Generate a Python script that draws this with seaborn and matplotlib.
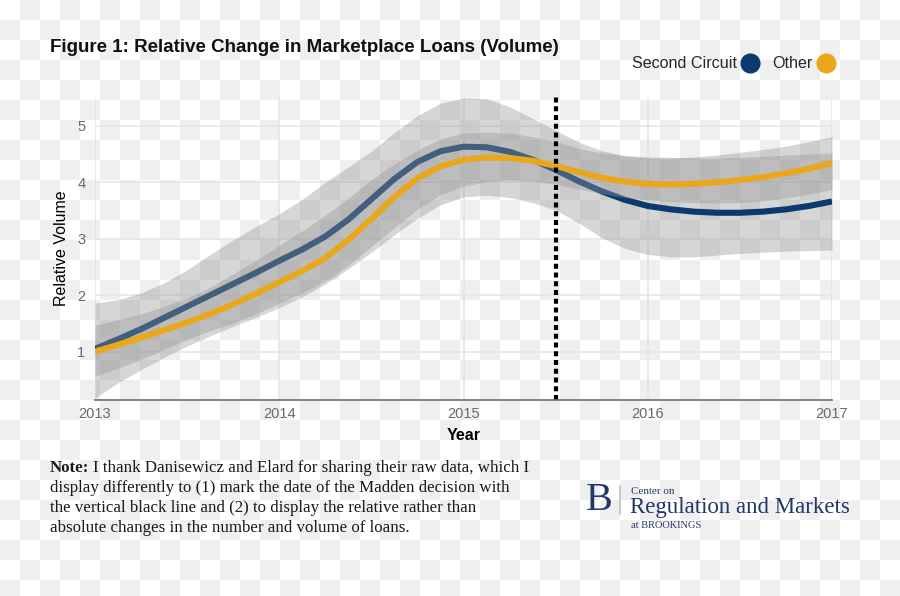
import numpy as np
import pandas as pd
import matplotlib
matplotlib.use("Agg")
import matplotlib.pyplot as plt
from matplotlib.lines import Line2D
import seaborn as sns

# ---------------- data (every 1/8 year) ----------------
years = [2013.000, 2013.125, 2013.250, 2013.375, 2013.500, 2013.625, 2013.750, 2013.875,
         2014.000, 2014.125, 2014.250, 2014.375, 2014.500, 2014.625, 2014.750, 2014.875,
         2015.000, 2015.125, 2015.250, 2015.375, 2015.500, 2015.625, 2015.750, 2015.875,
         2016.000, 2016.125, 2016.250, 2016.375, 2016.500, 2016.625, 2016.750, 2016.875,
         2017.000]
second_circuit = [1.05, 1.22, 1.40, 1.60, 1.80, 2.00, 2.20, 2.40,
                  2.61, 2.81, 3.04, 3.34, 3.70, 4.06, 4.36, 4.55,
                  4.63, 4.62, 4.54, 4.40, 4.22, 4.02, 3.84, 3.69,
                  3.58, 3.52, 3.48, 3.46, 3.46, 3.48, 3.52, 3.58,
                  3.66]
second_lo = [0.18, 0.45, 0.68, 0.90, 1.10, 1.28, 1.45, 1.61,
             1.78, 1.97, 2.20, 2.47, 2.76, 3.07, 3.36, 3.60,
             3.74, 3.77, 3.73, 3.64, 3.51, 3.28, 3.02, 2.83,
             2.72, 2.68, 2.68, 2.71, 2.74, 2.76, 2.78, 2.79,
             2.80]
second_hi = [1.86, 1.92, 2.04, 2.22, 2.45, 2.72, 2.98, 3.22,
             3.44, 3.70, 4.00, 4.27, 4.55, 4.88, 5.18, 5.40,
             5.49, 5.48, 5.34, 5.13, 4.92, 4.71, 4.56, 4.47,
             4.43, 4.43, 4.45, 4.48, 4.53, 4.58, 4.64, 4.72,
             4.81]
other = [1.00, 1.12, 1.25, 1.38, 1.52, 1.67, 1.84, 2.03,
         2.23, 2.43, 2.66, 2.98, 3.35, 3.74, 4.07, 4.28,
         4.40, 4.44, 4.43, 4.38, 4.29, 4.18, 4.08, 4.01,
         3.97, 3.96, 3.97, 4.00, 4.04, 4.09, 4.16, 4.24,
         4.34]
other_lo = [0.56, 0.71, 0.86, 1.04, 1.22, 1.37, 1.51, 1.67,
            1.86, 2.04, 2.25, 2.53, 2.86, 3.20, 3.52, 3.78,
            3.93, 4.01, 4.04, 4.02, 3.96, 3.88, 3.80, 3.73,
            3.69, 3.66, 3.64, 3.63, 3.64, 3.67, 3.72, 3.79,
            3.87]
other_hi = [1.47, 1.56, 1.67, 1.80, 1.95, 2.14, 2.38, 2.62,
            2.88, 3.14, 3.42, 3.72, 4.04, 4.33, 4.57, 4.77,
            4.87, 4.89, 4.87, 4.81, 4.72, 4.60, 4.52, 4.47,
            4.45, 4.44, 4.43, 4.43, 4.44, 4.46, 4.48, 4.50,
            4.52]
madden_date = 2015.5
x_ticks = [2013, 2014, 2015, 2016, 2017]
x_tick_labels = ["2013", "2014", "2015", "2016", "2017"]
y_ticks = [1, 2, 3, 4, 5]
y_tick_labels = ["1", "2", "3", "4", "5"]
series_names = ["Second Circuit", "Other"]

BLUE = "#0b3a6f"
GOLD = "#e9a81c"
NAVY = "#22386b"

df = pd.DataFrame({"Year": years, "Second Circuit": second_circuit, "Other": other})

sns.set_theme(style="white")
plt.rcParams["font.family"] = ["Liberation Sans", "DejaVu Sans"]

fig = plt.figure(figsize=(9, 5.96), dpi=100)
fig.patch.set_facecolor("white")

# transparency checkerboard background as in the reference
H, W = 596, 900
ii, jj = np.mgrid[0:H, 0:W]
board = np.where(((ii // 20) + (jj // 20)) % 2 == 1, 239, 255).astype(np.uint8)
board = np.dstack([board, board, board])
fig.figimage(board, xo=0, yo=0, origin="upper", zorder=-10)

ax = fig.add_axes([95 / 900, 1 - 400 / 596, (832 - 95) / 900, (400 - 97) / 596])
ax.set_facecolor("none")
ax.set_zorder(5)

ax.fill_between(years, second_lo, second_hi, color="#999999", alpha=0.4, lw=0, zorder=2)
sns.lineplot(data=df, x="Year", y="Second Circuit", color=BLUE, lw=4.4, ax=ax, zorder=3)
ax.fill_between(years, other_lo, other_hi, color="#999999", alpha=0.4, lw=0, zorder=4)
sns.lineplot(data=df, x="Year", y="Other", color=GOLD, lw=4.4, ax=ax, zorder=5)
for ln in ax.lines:
    ln.set_solid_capstyle("butt")
    ln.set_solid_joinstyle("round")

ax.axvline(madden_date, color="black", lw=3, linestyle=(0, (1.2, 0.9)), zorder=6)

ax.set_xlim(2013, 2017)
ax.set_ylim(0.144, 5.51)
ax.set_xticks(x_ticks)
ax.set_xticklabels(x_tick_labels)
ax.set_yticks(y_ticks)
ax.set_yticklabels(y_tick_labels)
ax.grid(True, color="#e6e6e6", lw=1.2, zorder=1)
ax.set_axisbelow(True)
for s in ["top", "right", "left"]:
    ax.spines[s].set_visible(False)
ax.spines["bottom"].set_color("#6e6e6e")
ax.spines["bottom"].set_linewidth(1.2)
ax.spines["bottom"].set_zorder(7)
ax.tick_params(axis="both", length=0, labelsize=10.5, labelcolor="#6a6a6a")
ax.tick_params(axis="x", pad=5)
ax.tick_params(axis="y", pad=7)

ax.set_xlabel("Year", fontsize=11.5, fontweight="bold", color="black", labelpad=5)
ax.set_ylabel("Relative Volume", fontsize=11.5, color="black", labelpad=6)

# title
fig.text(50 / 900, 1 - 48 / 596, "Figure 1: Relative Change in Marketplace Loans (Volume)",
         fontsize=13.5, fontweight="bold", va="center", ha="left", color="#111111")

# legend
handles = [Line2D([], [], marker="o", ls="", color=BLUE, markersize=13.5),
           Line2D([], [], marker="o", ls="", color=GOLD, markersize=13.5)]
fig.legend(handles, series_names, loc="center right", bbox_to_anchor=(848 / 900, 1 - 64 / 596),
           ncol=2, frameon=False, markerfirst=False, handlelength=0.9, handletextpad=0.4,
           columnspacing=0.9, prop={"size": 11.6})

# note
note_y0 = 1 - 468 / 596
dy = 20 / 596
fig.canvas.draw()
r = fig.canvas.get_renderer()
t_note = fig.text(50 / 900, note_y0, "Note:", fontsize=12.2, fontweight="bold",
                  family="Liberation Serif", va="center", ha="left", color="#1a1a1a")
bb = t_note.get_window_extent(renderer=r)
fig.text(bb.x1 / 900 + 4 / 900, note_y0,
         "I thank Danisewicz and Elard for sharing their raw data, which I",
         fontsize=12.2, family="Liberation Serif", va="center", ha="left", color="#1a1a1a")
rest = ["display differently to (1) mark the date of the Madden decision with",
        "the vertical black line and (2) to display the relative rather than",
        "absolute changes in the number and volume of loans."]
for k, line in enumerate(rest):
    fig.text(50 / 900, note_y0 - (k + 1) * dy, line, fontsize=12.2, family="Liberation Serif",
             va="center", ha="left", color="#1a1a1a")

# logo
fig.text(599 / 900, 1 - 501 / 596, "B", fontsize=29, family="Liberation Serif", color=NAVY,
         ha="center", va="center")
fig.add_artist(Line2D([620 / 900, 620 / 900], [1 - 486 / 596, 1 - 514 / 596],
                      color="#b8c0d0", lw=1.2))
fig.text(631 / 900, 1 - 491 / 596, "Center on", fontsize=8, family="Liberation Serif",
         color=NAVY, ha="left", va="center")
fig.text(630 / 900, 1 - 507 / 596, "Regulation and Markets", fontsize=16.5, family="Liberation Serif",
         color=NAVY, ha="left", va="center")
fig.text(631 / 900, 1 - 525 / 596, "at BROOKINGS", fontsize=7.5, family="Liberation Serif",
         color=NAVY, ha="left", va="center")

fig.savefig("out.png", dpi=100, facecolor="white")
